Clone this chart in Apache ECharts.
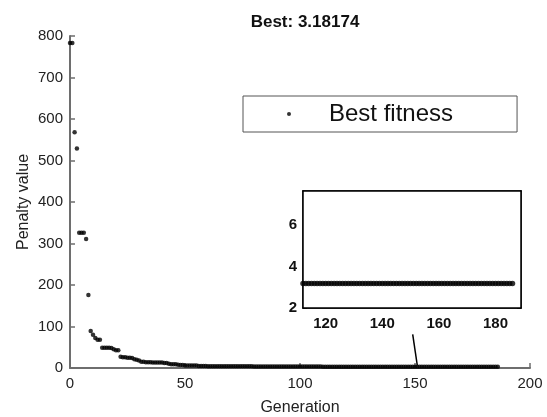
<!DOCTYPE html>
<html>
<head>
<meta charset="utf-8">
<script src="https://cdn.jsdelivr.net/npm/echarts@6/dist/echarts.min.js"></script>
<style>
html,body{margin:0;padding:0;background:#fff;}
#chart{width:547px;height:417px;}
</style>
</head>
<body>
<div id="chart"></div>
<script>
// Best penalty value per generation (index = generation)
var penalty = [
  783, 783, 568, 529, 326, 326, 326, 311, 176, 89,
  80, 72, 68, 68, 49, 49, 49, 49, 48, 45,
  43, 43, 27, 26, 26, 25, 25, 24, 21, 20,
  18, 15, 15, 14, 14, 14, 13, 13, 13, 13,
  13, 12, 12, 10, 9, 9, 9, 8, 7, 7,
  6, 6, 6, 6, 6, 6, 5, 5, 5, 5,
  4.2, 4.2, 4.2, 4.2, 4.2, 4.2, 4.2, 4.2, 4.2, 4.2,
  4.0, 4.0, 4.0, 4.0, 4.0, 4.0, 4.0, 4.0, 4.0, 4.0,
  3.8, 3.8, 3.8, 3.8, 3.8, 3.8, 3.8, 3.8, 3.8, 3.8,
  3.6, 3.6, 3.6, 3.6, 3.6, 3.6, 3.6, 3.6, 3.6, 3.6,
  3.4, 3.4, 3.4, 3.4, 3.4, 3.4, 3.4, 3.4, 3.4, 3.4,
  3.3, 3.2, 3.18174, 3.18174, 3.18174, 3.18174, 3.18174, 3.18174, 3.18174, 3.18174,
  3.18174, 3.18174, 3.18174, 3.18174, 3.18174, 3.18174, 3.18174, 3.18174, 3.18174, 3.18174,
  3.18174, 3.18174, 3.18174, 3.18174, 3.18174, 3.18174, 3.18174, 3.18174, 3.18174, 3.18174,
  3.18174, 3.18174, 3.18174, 3.18174, 3.18174, 3.18174, 3.18174, 3.18174, 3.18174, 3.18174,
  3.18174, 3.18174, 3.18174, 3.18174, 3.18174, 3.18174, 3.18174, 3.18174, 3.18174, 3.18174,
  3.18174, 3.18174, 3.18174, 3.18174, 3.18174, 3.18174, 3.18174, 3.18174, 3.18174, 3.18174,
  3.18174, 3.18174, 3.18174, 3.18174, 3.18174, 3.18174, 3.18174, 3.18174, 3.18174, 3.18174,
  3.18174, 3.18174, 3.18174, 3.18174, 3.18174, 3.18174, 3.18174
];
var titleText = 'Best: 3.18174';
var seriesName = 'Best fitness';
var xName = 'Generation';
var yName = 'Penalty value';
var insetXTicks = [120, 140, 160, 180];
var insetYTicks = [2, 4, 6];
var insetStartGen = 112;
var pointerFrom = [149, 81];
var pointerTo = [151, 6];

var FONT = 'Liberation Sans, Arial, Helvetica, sans-serif';
var mainData = penalty.map(function (v, i) { return [i, v]; });
var insetData = mainData.filter(function (d) { return d[0] >= insetStartGen; });

var axisGray = '#6e6e6e';
var chart = echarts.init(document.getElementById('chart'), null, {renderer: 'canvas'});
chart.setOption({
  animation: false,
  backgroundColor: '#fff',
  title: {
    text: titleText, left: 300, top: 9, textAlign: 'center',
    textStyle: {fontFamily: FONT, fontSize: 17, fontWeight: 'bold', color: '#111'}
  },
  legend: {
    left: 243, top: 96,
    data: [{name: seriesName, icon: 'circle'}],
    selectedMode: false,
    itemWidth: 4, itemHeight: 4,
    padding: [6, 64, 6, 44],
    borderColor: '#555', borderWidth: 1, backgroundColor: '#fff',
    formatter: function (n) { return '{g| }{t|' + n + '}'; },
    textStyle: {
      fontFamily: FONT, fontSize: 24, color: '#111',
      rich: {g: {width: 33}, t: {fontFamily: FONT, fontSize: 24, color: '#111'}}
    },
    z: 20
  },
  grid: [
    {left: 70, right: 17, top: 36, bottom: 49, show: false, outerBoundsMode: 'none', containLabel: false},
    {left: 303, top: 191, width: 218, height: 117, show: true, outerBoundsMode: 'none', containLabel: false,
     borderColor: '#000', borderWidth: 1.5, backgroundColor: '#fff', z: 10}
  ],
  xAxis: [
    {gridIndex: 0, type: 'value', min: 0, max: 200, interval: 50,
     axisLine: {show: true, onZero: false, lineStyle: {color: axisGray, width: 2}},
     axisTick: {show: true, inside: true, length: 5, lineStyle: {color: axisGray, width: 1.5}},
     splitLine: {show: false},
     axisLabel: {fontFamily: FONT, fontSize: 15, color: '#222', margin: 8},
     name: xName, nameLocation: 'middle', nameGap: 32, nameMoveOverlap: false,
     nameTextStyle: {fontFamily: FONT, fontSize: 16, color: '#222'}},
    {gridIndex: 1, type: 'value', min: insetStartGen, max: 189,
     axisLine: {show: true, onZero: false, lineStyle: {color: '#000', width: 1.5}},
     axisTick: {show: true, inside: true, length: 4, customValues: insetXTicks, lineStyle: {color: '#000', width: 1.5}},
     splitLine: {show: false},
     axisLabel: {customValues: insetXTicks, fontFamily: FONT, fontSize: 15, fontWeight: 'bold', color: '#111', margin: 8}},
    {gridIndex: 1, type: 'value', position: 'top', min: insetStartGen, max: 189,
     axisLine: {show: true, onZero: false, lineStyle: {color: '#000', width: 1.5}},
     axisTick: {show: true, inside: true, length: 4, customValues: insetXTicks, lineStyle: {color: '#000', width: 1.5}},
     splitLine: {show: false}, axisLabel: {show: false}}
  ],
  yAxis: [
    {gridIndex: 0, type: 'value', min: 0, max: 800, interval: 100,
     axisLine: {show: true, onZero: false, lineStyle: {color: axisGray, width: 2}},
     axisTick: {show: true, inside: true, length: 5, lineStyle: {color: axisGray, width: 1.5}},
     splitLine: {show: false},
     axisLabel: {fontFamily: FONT, fontSize: 15, color: '#222', margin: 7},
     name: yName, nameLocation: 'middle', nameGap: 38, nameRotate: 90, nameMoveOverlap: false,
     nameTextStyle: {fontFamily: FONT, fontSize: 16, color: '#222'}},
    {gridIndex: 1, type: 'value', min: 2, max: 7.65,
     axisLine: {show: true, onZero: false, lineStyle: {color: '#000', width: 1.5}},
     axisTick: {show: true, inside: true, length: 4, customValues: insetYTicks, lineStyle: {color: '#000', width: 1.5}},
     splitLine: {show: false},
     axisLabel: {customValues: insetYTicks, fontFamily: FONT, fontSize: 15, fontWeight: 'bold', color: '#111', margin: 6}},
    {gridIndex: 1, type: 'value', position: 'right', min: 2, max: 7.65,
     axisLine: {show: true, onZero: false, lineStyle: {color: '#000', width: 1.5}},
     axisTick: {show: true, inside: true, length: 4, customValues: insetYTicks, lineStyle: {color: '#000', width: 1.5}},
     splitLine: {show: false}, axisLabel: {show: false}}
  ],
  series: [
    {name: seriesName, type: 'scatter', xAxisIndex: 0, yAxisIndex: 0,
     data: mainData, symbol: 'circle', symbolSize: 4.5,
     itemStyle: {color: '#000'}, z: 5,
     markLine: {
       silent: true, symbol: ['none', 'none'], label: {show: false},
       lineStyle: {color: '#000', width: 1.5, type: 'solid'},
       data: [[{coord: pointerFrom}, {coord: pointerTo}]]
     }},
    {name: 'inset', type: 'scatter', xAxisIndex: 1, yAxisIndex: 1,
     data: insetData, symbol: 'circle', symbolSize: 5.5, clip: true,
     itemStyle: {color: '#000'}, z: 15}
  ]
});
</script>
</body>
</html>
